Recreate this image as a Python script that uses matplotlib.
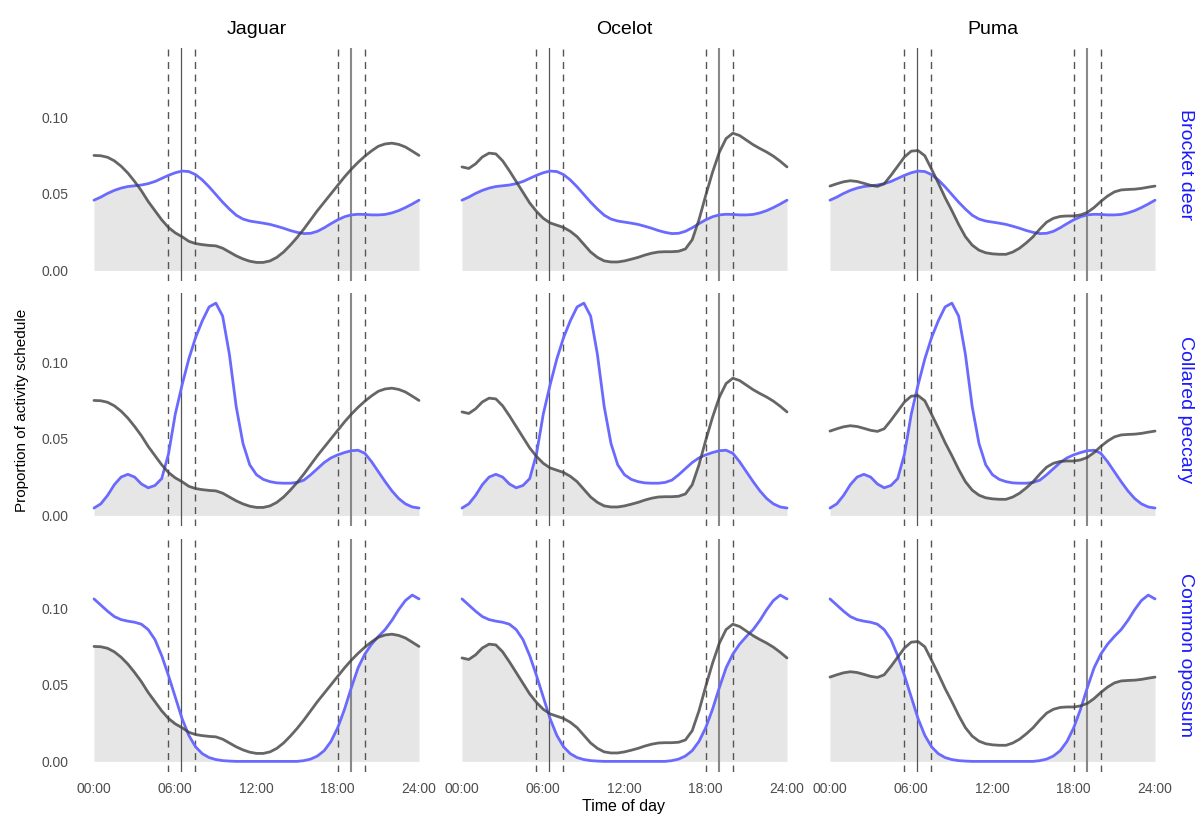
import numpy as np
import matplotlib
matplotlib.use("Agg")
import matplotlib.pyplot as plt

plt.rcParams['font.family'] = ['Liberation Sans', 'DejaVu Sans']

# half-hour grid, 00:00 to 24:00
hours = np.arange(0, 24.5, 0.5)

predators = ["Jaguar", "Ocelot", "Puma"]
prey = ["Brocket deer", "Collared peccary", "Common opossum"]

jaguar = [0.0750, 0.0748, 0.0738, 0.0715, 0.0680, 0.0635, 0.0580, 0.0520, 0.0450, 0.0390,
          0.0330, 0.0280, 0.0245, 0.0220, 0.0190, 0.0175, 0.0168, 0.0163, 0.0160, 0.0145,
          0.0120, 0.0095, 0.0075, 0.0060, 0.0052, 0.0052, 0.0062, 0.0085, 0.0120, 0.0165,
          0.0215, 0.0270, 0.0330, 0.0390, 0.0445, 0.0500, 0.0555, 0.0610, 0.0660, 0.0705,
          0.0745, 0.0780, 0.0810, 0.0825, 0.0830, 0.0822, 0.0805, 0.0778, 0.0750]
ocelot = [0.0675, 0.0665, 0.0695, 0.0740, 0.0765, 0.0760, 0.0715, 0.0650, 0.0580, 0.0510,
          0.0440, 0.0385, 0.0340, 0.0310, 0.0295, 0.0280, 0.0255, 0.0220, 0.0170, 0.0120,
          0.0085, 0.0062, 0.0055, 0.0055, 0.0062, 0.0073, 0.0085, 0.0100, 0.0112, 0.0120,
          0.0122, 0.0122, 0.0125, 0.0140, 0.0200, 0.0330, 0.0490, 0.0640, 0.0770, 0.0860,
          0.0895, 0.0880, 0.0850, 0.0820, 0.0795, 0.0772, 0.0745, 0.0712, 0.0675]
puma = [0.0550, 0.0565, 0.0578, 0.0585, 0.0580, 0.0568, 0.0555, 0.0548, 0.0565, 0.0620,
        0.0680, 0.0740, 0.0778, 0.0782, 0.0748, 0.0660, 0.0570, 0.0475, 0.0390, 0.0300,
        0.0220, 0.0165, 0.0132, 0.0115, 0.0108, 0.0105, 0.0105, 0.0120, 0.0145, 0.0180,
        0.0220, 0.0270, 0.0315, 0.0340, 0.0352, 0.0355, 0.0355, 0.0362, 0.0378, 0.0410,
        0.0450, 0.0485, 0.0512, 0.0525, 0.0528, 0.0530, 0.0535, 0.0543, 0.0550]

deer = [0.0458, 0.0478, 0.0502, 0.0522, 0.0537, 0.0547, 0.0552, 0.0557, 0.0566, 0.0580,
        0.0600, 0.0620, 0.0637, 0.0648, 0.0645, 0.0625, 0.0590, 0.0545, 0.0495, 0.0445,
        0.0400, 0.0360, 0.0335, 0.0322, 0.0315, 0.0308, 0.0300, 0.0288, 0.0275, 0.0260,
        0.0248, 0.0240, 0.0242, 0.0255, 0.0278, 0.0305, 0.0330, 0.0350, 0.0362, 0.0366,
        0.0365, 0.0362, 0.0362, 0.0365, 0.0375, 0.0390, 0.0410, 0.0433, 0.0458]
peccary = [0.0048, 0.0075, 0.0130, 0.0200, 0.0250, 0.0268, 0.0250, 0.0205, 0.0180, 0.0195,
           0.0240, 0.0400, 0.0660, 0.0850, 0.1020, 0.1160, 0.1270, 0.1360, 0.1385, 0.1300,
           0.1050, 0.0710, 0.0470, 0.0330, 0.0265, 0.0235, 0.0220, 0.0212, 0.0210, 0.0210,
           0.0215, 0.0230, 0.0265, 0.0305, 0.0345, 0.0375, 0.0395, 0.0410, 0.0422, 0.0425,
           0.0405, 0.0350, 0.0285, 0.0220, 0.0160, 0.0110, 0.0075, 0.0055, 0.0048]
opossum = [0.1060, 0.1020, 0.0980, 0.0945, 0.0925, 0.0915, 0.0908, 0.0895, 0.0860, 0.0795,
           0.0690, 0.0560, 0.0420, 0.0280, 0.0170, 0.0095, 0.0050, 0.0025, 0.0012, 0.0005,
           0.0002, 0.0000, 0.0000, 0.0000, 0.0000, 0.0000, 0.0000, 0.0000, 0.0000, 0.0000,
           0.0000, 0.0005, 0.0015, 0.0035, 0.0070, 0.0130, 0.0220, 0.0340, 0.0480, 0.0610,
           0.0700, 0.0765, 0.0815, 0.0860, 0.0920, 0.0990, 0.1050, 0.1085, 0.1060]

pred_curves = [jaguar, ocelot, puma]
prey_curves = [deer, peccary, opossum]

sunrise, sunset = 6.45, 19.0
twilight = 1.0

xticks = [0, 6, 12, 18, 24]
xticklabels = ["00:00", "06:00", "12:00", "18:00", "24:00"]
yticks = [0.0, 0.05, 0.10]
yticklabels = ["0.00", "0.05", "0.10"]

W, H = 1203, 816
fig = plt.figure(figsize=(W / 100, H / 100), dpi=100)

col_left = [77.75, 445.75, 813.75]
col_w = 357.5
row_top = [47.5, 292.5, 538.5]
row_h = 233.5

ymax = max(max(c) for c in prey_curves + pred_curves)
ylim = (-0.05 * ymax, 1.05 * ymax)

for r in range(3):
    for c in range(3):
        ax = fig.add_axes([col_left[c] / W, 1 - (row_top[r] + row_h) / H, col_w / W, row_h / H])
        p = np.array(pred_curves[c])
        q = np.array(prey_curves[r])
        ax.fill_between(hours, 0, np.minimum(p, q), color="#e6e6e6", lw=0, zorder=1)
        for x in (sunrise, sunset):
            ax.axvline(x - twilight, color="#555555", lw=1.0, ls=(0, (5, 4)), zorder=2)
            ax.axvline(x + twilight, color="#555555", lw=1.0, ls=(0, (5, 4)), zorder=2)
        ax.axvline(sunrise, color="#555555", lw=0.9, zorder=2)
        ax.axvline(sunset, color="#888888", lw=1.5, zorder=2)
        ax.plot(hours, q, color="#6a6aff", lw=2.0, solid_capstyle="round", zorder=3)
        ax.plot(hours, p, color="#404040", alpha=0.8, lw=2.0, solid_capstyle="round", zorder=4)
        ax.set_xlim(-1.2, 25.2)
        ax.set_ylim(*ylim)
        for s in ax.spines.values():
            s.set_visible(False)
        ax.tick_params(length=0, labelsize=10, labelcolor="#4d4d4d", pad=7)
        ax.set_xticks(xticks)
        ax.set_yticks(yticks)
        if r == 2:
            ax.set_xticklabels(xticklabels)
        else:
            ax.set_xticklabels([])
        if c == 0:
            ax.set_yticklabels(yticklabels)
        else:
            ax.set_yticklabels([])
        if r == 0:
            ax.set_title(predators[c], fontsize=14, pad=10)
        if c == 2:
            ax.text(1.04, 0.5, prey[r], transform=ax.transAxes, rotation=-90,
                    ha="center", va="center", fontsize=14, color="#1a1aff")

fig.text(22 / W, 1 - 410 / H, "Proportion of activity schedule", rotation=90,
         ha="center", va="center", fontsize=11)
fig.text(624 / W, 1 - 807 / H, "Time of day", ha="center", va="center", fontsize=11.5)

fig.savefig("out.png", dpi=100)
